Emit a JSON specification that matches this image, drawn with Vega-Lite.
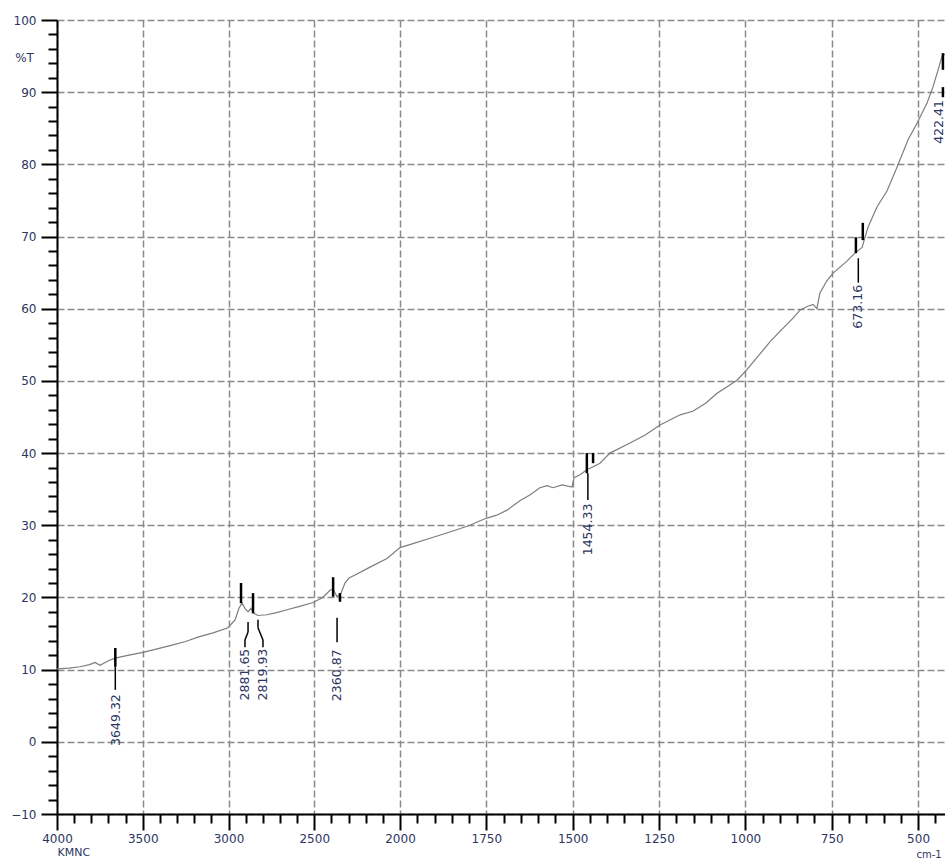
{
  "$schema": "https://vega.github.io/schema/vega-lite/v6.json",
  "width": 888,
  "height": 794,
  "autosize": {"type": "none"},
  "padding": {"left": 57, "top": 20, "right": 0, "bottom": 45},
  "background": "white",
  "config": {
    "view": {"stroke": null},
    "axis": {"labelFont": "DejaVu Sans", "titleFont": "DejaVu Sans", "labelColor": "#2d3561", "titleColor": "#2d3561", "titleFontWeight": "normal"}
  },
  "datasets": {
    "spectrum": [
      {"wn": 4000, "t": 10.1}, {"wn": 3930, "t": 10.2}, {"wn": 3866, "t": 10.4}, {"wn": 3810, "t": 10.7}, {"wn": 3778, "t": 11.0},
      {"wn": 3749, "t": 10.6}, {"wn": 3703, "t": 11.2}, {"wn": 3662, "t": 11.6}, {"wn": 3580, "t": 12.0}, {"wn": 3499, "t": 12.4},
      {"wn": 3410, "t": 12.9}, {"wn": 3329, "t": 13.4}, {"wn": 3250, "t": 13.9}, {"wn": 3178, "t": 14.5}, {"wn": 3090, "t": 15.1},
      {"wn": 3003, "t": 15.8}, {"wn": 2962, "t": 16.9}, {"wn": 2939, "t": 18.5}, {"wn": 2921, "t": 19.2}, {"wn": 2904, "t": 18.5},
      {"wn": 2886, "t": 18.0}, {"wn": 2869, "t": 18.5}, {"wn": 2851, "t": 17.8}, {"wn": 2828, "t": 17.5}, {"wn": 2776, "t": 17.6},
      {"wn": 2720, "t": 17.9}, {"wn": 2659, "t": 18.3}, {"wn": 2580, "t": 18.8}, {"wn": 2507, "t": 19.3}, {"wn": 2450, "t": 20.0},
      {"wn": 2408, "t": 21.0}, {"wn": 2391, "t": 21.2}, {"wn": 2367, "t": 20.1}, {"wn": 2344, "t": 20.6}, {"wn": 2321, "t": 22.0},
      {"wn": 2297, "t": 22.7}, {"wn": 2262, "t": 23.1}, {"wn": 2175, "t": 24.2}, {"wn": 2076, "t": 25.4}, {"wn": 2000, "t": 26.9},
      {"wn": 1960, "t": 27.5}, {"wn": 1913, "t": 28.2}, {"wn": 1860, "t": 29.0}, {"wn": 1797, "t": 30.0}, {"wn": 1770, "t": 30.6},
      {"wn": 1748, "t": 31.0}, {"wn": 1720, "t": 31.4}, {"wn": 1690, "t": 32.1}, {"wn": 1653, "t": 33.4}, {"wn": 1624, "t": 34.2},
      {"wn": 1595, "t": 35.2}, {"wn": 1574, "t": 35.5}, {"wn": 1557, "t": 35.2}, {"wn": 1531, "t": 35.6}, {"wn": 1502, "t": 35.3},
      {"wn": 1496, "t": 36.6}, {"wn": 1479, "t": 37.0}, {"wn": 1459, "t": 37.7}, {"wn": 1441, "t": 38.1}, {"wn": 1421, "t": 38.6},
      {"wn": 1392, "t": 40.0}, {"wn": 1334, "t": 41.4}, {"wn": 1290, "t": 42.5}, {"wn": 1247, "t": 43.9}, {"wn": 1189, "t": 45.3},
      {"wn": 1152, "t": 45.8}, {"wn": 1115, "t": 46.9}, {"wn": 1082, "t": 48.3}, {"wn": 1024, "t": 50.1}, {"wn": 995, "t": 51.6},
      {"wn": 960, "t": 53.6}, {"wn": 929, "t": 55.4}, {"wn": 895, "t": 57.1}, {"wn": 862, "t": 58.7}, {"wn": 842, "t": 59.8},
      {"wn": 821, "t": 60.3}, {"wn": 804, "t": 60.6}, {"wn": 793, "t": 60.0}, {"wn": 784, "t": 62.2}, {"wn": 765, "t": 63.8},
      {"wn": 747, "t": 64.9}, {"wn": 725, "t": 65.8}, {"wn": 706, "t": 66.6}, {"wn": 683, "t": 67.7}, {"wn": 662, "t": 68.5},
      {"wn": 645, "t": 71.3}, {"wn": 619, "t": 74.1}, {"wn": 590, "t": 76.3}, {"wn": 561, "t": 79.6}, {"wn": 529, "t": 83.4},
      {"wn": 503, "t": 85.7}, {"wn": 474, "t": 88.5}, {"wn": 457, "t": 90.7}, {"wn": 442, "t": 93.1}, {"wn": 431, "t": 94.9},
      {"wn": 422, "t": 95.3}
    ],
    "ticks": [
      {"x": 3660, "y": 13.0, "y2": 10.4},
      {"x": 2927, "y": 22.0, "y2": 19.2},
      {"x": 2857, "y": 20.6, "y2": 17.8},
      {"x": 2390, "y": 22.8, "y2": 20.1},
      {"x": 2350, "y": 20.6, "y2": 19.4},
      {"x": 1459, "y": 40.0, "y2": 37.2},
      {"x": 1441, "y": 40.0, "y2": 38.6},
      {"x": 680, "y": 69.9, "y2": 67.7},
      {"x": 660, "y": 71.9, "y2": 69.5},
      {"x": 428, "y": 95.4, "y2": 93.1},
      {"x": 428, "y": 90.7, "y2": 89.3}
    ],
    "leaders": [
      {"x": 3660, "y": 10.4, "x2": 3660, "y2": 7.2},
      {"x": 2886, "y": 16.6, "x2": 2886, "y2": 15.2},
      {"x": 2886, "y": 15.2, "x2": 2904, "y2": 14.1},
      {"x": 2904, "y": 14.1, "x2": 2904, "y2": 13.1},
      {"x": 2828, "y": 16.9, "x2": 2828, "y2": 15.8},
      {"x": 2828, "y": 15.8, "x2": 2799, "y2": 14.1},
      {"x": 2799, "y": 14.1, "x2": 2799, "y2": 13.1},
      {"x": 2367, "y": 17.2, "x2": 2367, "y2": 13.8},
      {"x": 1456, "y": 37.2, "x2": 1456, "y2": 33.5},
      {"x": 673, "y": 67.0, "x2": 673, "y2": 63.6}
    ],
    "labels": [
      {"x": 3657, "y": 6.6, "text": "3649.32"},
      {"x": 2904, "y": 12.9, "text": "2881.65"},
      {"x": 2799, "y": 12.9, "text": "2819.93"},
      {"x": 2367, "y": 12.8, "text": "2360.87"},
      {"x": 1456, "y": 33.0, "text": "1454.33"},
      {"x": 673, "y": 63.3, "text": "673.16"},
      {"x": 440, "y": 88.9, "text": "422.41"}
    ]
  },
  "resolve": {"axis": {"x": "independent", "y": "independent"}},
  "layer": [
    {
      "data": {"name": "spectrum"},
      "mark": {"type": "line", "color": "#7d7d7d", "strokeWidth": 1.2},
      "encoding": {
        "x": {
          "field": "wn", "type": "quantitative",
          "scale": {"domain": [4000, 2000, 422], "range": [0, 343, 888], "nice": false, "zero": false},
          "axis": {
            "orient": "bottom",
            "values": [4000, 3500, 3000, 2500, 2000, 1750, 1500, 1250, 1000, 750, 500],
            "format": "d", "grid": true, "gridDash": [7, 3], "gridColor": "#8a8a8a", "gridWidth": 1.5,
            "tickSize": 16, "tickWidth": 2, "tickColor": "black", "domainColor": "black", "domainWidth": 2,
            "labelFontSize": 12, "labelPadding": 3, "labelFlush": false, "labelOverlap": false, "labelBound": false,
            "title": "KMNC", "titleX": 0, "titleY": 38, "titleAlign": "left", "titleBaseline": "middle", "titleFontSize": 11
          }
        },
        "y": {
          "field": "t", "type": "quantitative",
          "scale": {"domain": [-10, 100], "nice": false, "zero": false},
          "axis": {
            "orient": "left",
            "values": [-10, 0, 10, 20, 30, 40, 50, 60, 70, 80, 90, 100],
            "grid": true, "gridDash": [7, 3], "gridColor": "#8a8a8a", "gridWidth": 1.5,
            "tickSize": 16, "tickWidth": 2, "tickColor": "black", "domainColor": "black", "domainWidth": 2,
            "labelFontSize": 12, "labelPadding": 5, "labelFlush": false, "labelOverlap": false, "labelBound": false,
            "title": "%T", "titleAngle": 0, "titleX": -33, "titleY": 37.5, "titleAlign": "center", "titleBaseline": "middle", "titleFontSize": 12
          }
        }
      }
    },
    {
      "mark": {"type": "rule", "color": "black", "strokeWidth": 2},
      "encoding": {
        "x": {
          "datum": 2000, "type": "quantitative",
          "scale": {"domain": [4000, 2000, 422], "range": [0, 343, 888], "nice": false, "zero": false},
          "axis": {
            "orient": "bottom",
            "values": [3900, 3800, 3700, 3600, 3400, 3300, 3200, 3100, 2900, 2800, 2700, 2600, 2400, 2300, 2200, 2100,
                       1950, 1900, 1850, 1800, 1700, 1650, 1600, 1550, 1450, 1400, 1350, 1300, 1200, 1150, 1100, 1050,
                       950, 900, 850, 800, 700, 650, 600, 550, 450],
            "grid": false, "labels": false, "domain": false,
            "tickSize": 9, "tickWidth": 2, "tickColor": "black",
            "title": "cm-1", "titleX": 859, "titleY": 40, "titleAlign": "left", "titleBaseline": "middle", "titleFontSize": 10
          }
        }
      }
    },
    {
      "data": {"name": "ticks"},
      "mark": {"type": "rule", "color": "black", "strokeWidth": 2.5},
      "encoding": {
        "x": {"field": "x", "type": "quantitative",
              "scale": {"domain": [4000, 2000, 422], "range": [0, 343, 888], "nice": false, "zero": false}, "axis": null},
        "y": {
          "field": "y", "type": "quantitative",
          "scale": {"domain": [-10, 100], "nice": false, "zero": false},
          "axis": {
            "orient": "left",
            "values": [-8, -6, -4, -2, 2, 4, 6, 8, 12, 14, 16, 18, 22, 24, 26, 28, 32, 34, 36, 38, 42, 44, 46, 48,
                       52, 54, 56, 58, 62, 64, 66, 68, 72, 74, 76, 78, 82, 84, 86, 88, 92, 94, 96, 98],
            "grid": false, "labels": false, "domain": false, "title": null,
            "tickSize": 9, "tickWidth": 2, "tickColor": "black"
          }
        },
        "y2": {"field": "y2"}
      }
    },
    {
      "data": {"name": "leaders"},
      "mark": {"type": "rule", "color": "black", "strokeWidth": 1.5},
      "encoding": {
        "x": {"field": "x", "type": "quantitative",
              "scale": {"domain": [4000, 2000, 422], "range": [0, 343, 888], "nice": false, "zero": false}, "axis": null},
        "x2": {"field": "x2"},
        "y": {"field": "y", "type": "quantitative", "scale": {"domain": [-10, 100], "nice": false, "zero": false}, "axis": null},
        "y2": {"field": "y2"}
      }
    },
    {
      "data": {"name": "labels"},
      "mark": {"type": "text", "angle": 270, "align": "right", "baseline": "middle", "font": "DejaVu Sans", "fontSize": 12.5, "color": "#2d3561"},
      "encoding": {
        "x": {"field": "x", "type": "quantitative",
              "scale": {"domain": [4000, 2000, 422], "range": [0, 343, 888], "nice": false, "zero": false}, "axis": null},
        "y": {"field": "y", "type": "quantitative", "scale": {"domain": [-10, 100], "nice": false, "zero": false}, "axis": null},
        "text": {"field": "text"}
      }
    }
  ]
}
